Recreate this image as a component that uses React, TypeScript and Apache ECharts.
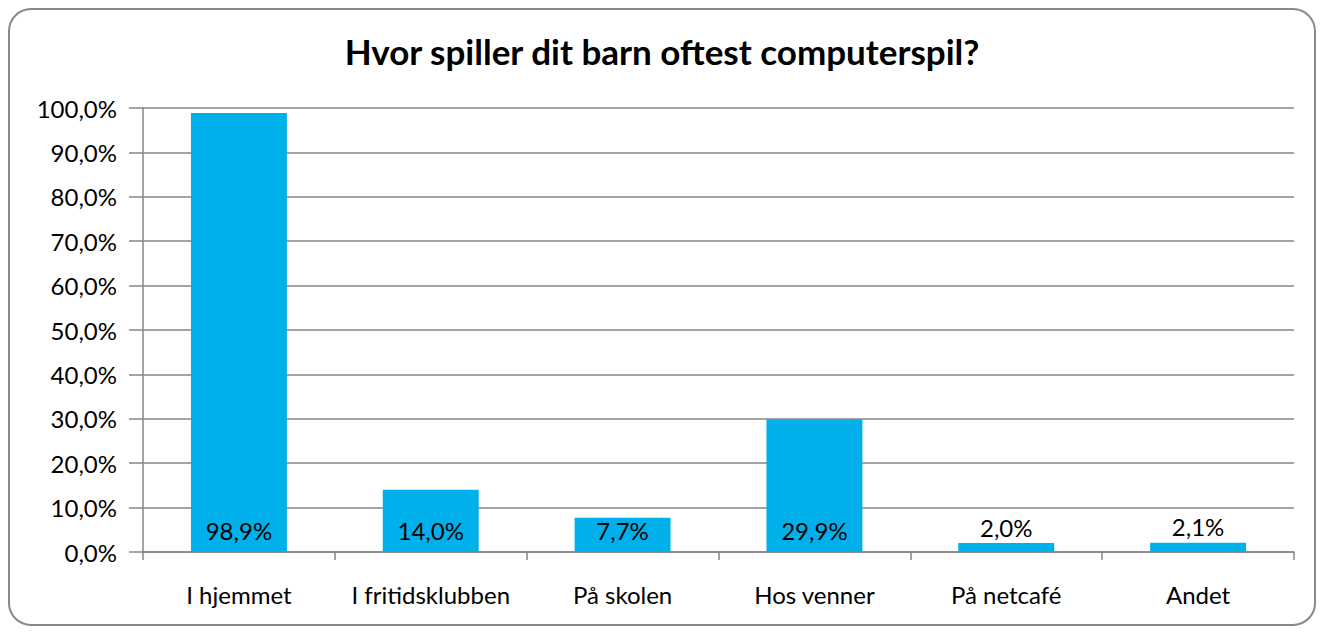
import React, { useEffect, useRef } from "react";
import * as echarts from "echarts";

const categories = ["I hjemmet", "I fritidsklubben", "På skolen", "Hos venner", "På netcafé", "Andet"];
const values = [98.9, 14.0, 7.7, 29.9, 2.0, 2.1];
const titleText = "Hvor spiller dit barn oftest computerspil?";

const fmt = (v: number) => v.toFixed(1).replace(".", ",") + "%";

export default function App() {
  const ref = useRef<HTMLDivElement>(null);
  useEffect(() => {
    const chart = echarts.init(ref.current!, null, { renderer: "svg" });
    const font = "Lato, 'Open Sans', sans-serif";
    chart.setOption({
      animation: false,
      backgroundColor: "#ffffff",
      textStyle: { fontFamily: font },
      title: {
        text: titleText,
        left: "center",
        top: 28,
        textStyle: { fontSize: 35, fontWeight: "bold", color: "#000", fontFamily: font },
      },
      graphic: [
        {
          type: "rect",
          shape: { x: 9, y: 9, width: 1306, height: 616, r: 22 },
          style: { fill: "none", stroke: "#898989", lineWidth: 2 },
          silent: true,
        },
      ],
      grid: { left: 143, right: 30, top: 108, bottom: 82, containLabel: false },
      xAxis: {
        type: "category",
        data: categories,
        axisLine: { show: true, lineStyle: { color: "#868686", width: 1.5 } },
        axisTick: { show: true, length: 8, alignWithLabel: false, lineStyle: { color: "#868686", width: 1.5 } },
        axisLabel: { color: "#000", fontSize: 24, margin: 30, interval: 0, hideOverlap: false, fontFamily: font },
      },
      yAxis: {
        type: "value",
        min: 0,
        max: 100,
        interval: 10,
        axisLine: { show: true, lineStyle: { color: "#868686", width: 1.5 } },
        axisTick: { show: true, length: 14, lineStyle: { color: "#868686", width: 1.5 } },
        axisLabel: { color: "#000", fontSize: 24, margin: 26, formatter: (v: number) => fmt(v), fontFamily: font },
        splitLine: { show: true, lineStyle: { color: "#868686", width: 1.5 } },
      },
      series: [
        {
          type: "bar",
          barWidth: "50%",
          itemStyle: { color: "#00B0EA" },
          data: values.map((v) => ({
            value: v,
            label: {
              show: true,
              position: v >= 5 ? "insideBottom" : "top",
              distance: v >= 5 ? 10 : 4,
              formatter: () => fmt(v),
              color: "#000",
              fontSize: 24,
              fontFamily: font,
            },
          })),
        },
      ],
    });
    return () => chart.dispose();
  }, []);
  return <div ref={ref} style={{ position: "absolute", left: 0, top: 0, width: 1324, height: 634 }} />;
}
